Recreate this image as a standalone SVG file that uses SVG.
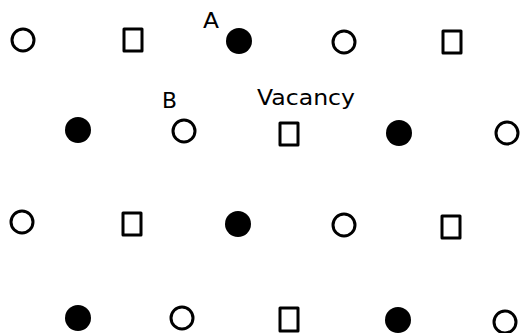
<svg xmlns="http://www.w3.org/2000/svg" width="522" height="333" viewBox="0 0 522 333">
<defs>
<style>
.o{fill:none;stroke:#000;stroke-width:3}
.f{fill:#000}
.v{fill:none;stroke:#000;stroke-width:3;stroke-linejoin:round}
.t{font-family:"DejaVu Sans","Liberation Sans",Arial,sans-serif;font-size:21px;fill:#000}
</style>
</defs>
<rect width="522" height="333" fill="#fff"/>
<g id="row1">
<circle id="r1c1" class="o" cx="23" cy="40" r="11"/>
<rect id="r1c2" class="v" x="124" y="29" width="18" height="22"/>
<circle id="r1c3" class="f" cx="239" cy="41" r="13"/>
<circle id="r1c4" class="o" cx="344" cy="42" r="11"/>
<rect id="r1c5" class="v" x="443" y="31" width="18" height="22"/>
</g>
<g id="row2">
<circle id="r2c1" class="f" cx="78" cy="130" r="13"/>
<circle id="r2c2" class="o" cx="184" cy="131" r="11"/>
<rect id="r2c3" class="v" x="280" y="123" width="18" height="22"/>
<circle id="r2c4" class="f" cx="399" cy="133" r="13"/>
<circle id="r2c5" class="o" cx="507" cy="133" r="11"/>
</g>
<g id="row3">
<circle id="r3c1" class="o" cx="22" cy="222" r="11"/>
<rect id="r3c2" class="v" x="123" y="213" width="18" height="22"/>
<circle id="r3c3" class="f" cx="238" cy="224" r="13"/>
<circle id="r3c4" class="o" cx="344" cy="225" r="11"/>
<rect id="r3c5" class="v" x="442" y="216" width="18" height="22"/>
</g>
<g id="row4">
<circle id="r4c1" class="f" cx="78" cy="318" r="13"/>
<circle id="r4c2" class="o" cx="182" cy="318" r="11"/>
<rect id="r4c3" class="v" x="280" y="308" width="18" height="23"/>
<circle id="r4c4" class="f" cx="398" cy="320" r="13"/>
<circle id="r4c5" class="o" cx="505" cy="322" r="11"/>
</g>
<g id="labels">
<text class="t" x="203" y="28" textLength="16" lengthAdjust="spacingAndGlyphs">A</text>
<text class="t" x="162" y="108" textLength="15" lengthAdjust="spacingAndGlyphs">B</text>
<text class="t" x="257" y="105" textLength="98" lengthAdjust="spacingAndGlyphs">Vacancy</text>
</g>
</svg>
